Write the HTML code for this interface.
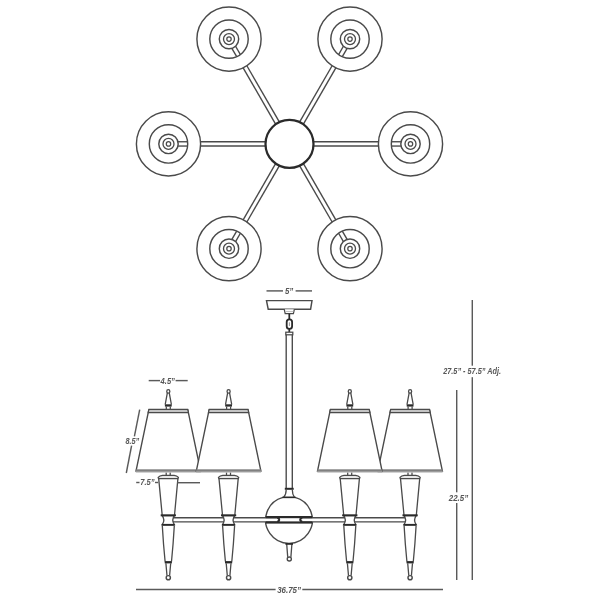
<!DOCTYPE html>
<html><head><meta charset="utf-8"><style>
html,body{margin:0;padding:0;background:#fff;width:600px;height:600px;overflow:hidden}
svg{display:block;will-change:transform}
</style></head><body>
<svg width="600" height="600" viewBox="0 0 600 600">
<rect width="600" height="600" fill="#fff"/>
<line x1="275.59" y1="124.1" x2="243.15" y2="67.92" stroke="#4a4a4a" stroke-width="1.38"/>
<line x1="279.31" y1="121.95" x2="246.88" y2="65.77" stroke="#4a4a4a" stroke-width="1.38"/>
<line x1="231.87" y1="48.38" x2="236.68" y2="56.71" stroke="#4a4a4a" stroke-width="1.38"/>
<line x1="235.59" y1="46.23" x2="240.4" y2="54.56" stroke="#4a4a4a" stroke-width="1.38"/>
<circle cx="229" cy="39.11" r="32.1" fill="none" stroke="#4a4a4a" stroke-width="1.44"/>
<circle cx="229" cy="39.11" r="19.2" fill="none" stroke="#4a4a4a" stroke-width="1.44"/>
<circle cx="229" cy="39.11" r="9.7" fill="none" stroke="#4a4a4a" stroke-width="1.44"/>
<circle cx="229" cy="39.11" r="5.5" fill="none" stroke="#4a4a4a" stroke-width="1.31"/>
<circle cx="229" cy="39.11" r="2.2" fill="none" stroke="#4a4a4a" stroke-width="1.25"/>
<line x1="299.69" y1="121.95" x2="332.12" y2="65.77" stroke="#4a4a4a" stroke-width="1.38"/>
<line x1="303.41" y1="124.1" x2="335.85" y2="67.92" stroke="#4a4a4a" stroke-width="1.38"/>
<line x1="343.41" y1="46.23" x2="338.6" y2="54.56" stroke="#4a4a4a" stroke-width="1.38"/>
<line x1="347.13" y1="48.38" x2="342.32" y2="56.71" stroke="#4a4a4a" stroke-width="1.38"/>
<circle cx="350" cy="39.11" r="32.1" fill="none" stroke="#4a4a4a" stroke-width="1.44"/>
<circle cx="350" cy="39.11" r="19.2" fill="none" stroke="#4a4a4a" stroke-width="1.44"/>
<circle cx="350" cy="39.11" r="9.7" fill="none" stroke="#4a4a4a" stroke-width="1.44"/>
<circle cx="350" cy="39.11" r="5.5" fill="none" stroke="#4a4a4a" stroke-width="1.31"/>
<circle cx="350" cy="39.11" r="2.2" fill="none" stroke="#4a4a4a" stroke-width="1.25"/>
<line x1="265.4" y1="146.05" x2="200.53" y2="146.05" stroke="#4a4a4a" stroke-width="1.38"/>
<line x1="265.4" y1="141.75" x2="200.53" y2="141.75" stroke="#4a4a4a" stroke-width="1.38"/>
<line x1="177.96" y1="146.05" x2="187.58" y2="146.05" stroke="#4a4a4a" stroke-width="1.38"/>
<line x1="177.96" y1="141.75" x2="187.58" y2="141.75" stroke="#4a4a4a" stroke-width="1.38"/>
<circle cx="168.5" cy="143.9" r="32.1" fill="none" stroke="#4a4a4a" stroke-width="1.44"/>
<circle cx="168.5" cy="143.9" r="19.2" fill="none" stroke="#4a4a4a" stroke-width="1.44"/>
<circle cx="168.5" cy="143.9" r="9.7" fill="none" stroke="#4a4a4a" stroke-width="1.44"/>
<circle cx="168.5" cy="143.9" r="5.5" fill="none" stroke="#4a4a4a" stroke-width="1.31"/>
<circle cx="168.5" cy="143.9" r="2.2" fill="none" stroke="#4a4a4a" stroke-width="1.25"/>
<line x1="313.6" y1="141.75" x2="378.47" y2="141.75" stroke="#4a4a4a" stroke-width="1.38"/>
<line x1="313.6" y1="146.05" x2="378.47" y2="146.05" stroke="#4a4a4a" stroke-width="1.38"/>
<line x1="401.04" y1="141.75" x2="391.42" y2="141.75" stroke="#4a4a4a" stroke-width="1.38"/>
<line x1="401.04" y1="146.05" x2="391.42" y2="146.05" stroke="#4a4a4a" stroke-width="1.38"/>
<circle cx="410.5" cy="143.9" r="32.1" fill="none" stroke="#4a4a4a" stroke-width="1.44"/>
<circle cx="410.5" cy="143.9" r="19.2" fill="none" stroke="#4a4a4a" stroke-width="1.44"/>
<circle cx="410.5" cy="143.9" r="9.7" fill="none" stroke="#4a4a4a" stroke-width="1.44"/>
<circle cx="410.5" cy="143.9" r="5.5" fill="none" stroke="#4a4a4a" stroke-width="1.31"/>
<circle cx="410.5" cy="143.9" r="2.2" fill="none" stroke="#4a4a4a" stroke-width="1.25"/>
<line x1="279.31" y1="165.85" x2="246.88" y2="222.03" stroke="#4a4a4a" stroke-width="1.38"/>
<line x1="275.59" y1="163.7" x2="243.15" y2="219.88" stroke="#4a4a4a" stroke-width="1.38"/>
<line x1="235.59" y1="241.57" x2="240.4" y2="233.24" stroke="#4a4a4a" stroke-width="1.38"/>
<line x1="231.87" y1="239.42" x2="236.68" y2="231.09" stroke="#4a4a4a" stroke-width="1.38"/>
<circle cx="229" cy="248.69" r="32.1" fill="none" stroke="#4a4a4a" stroke-width="1.44"/>
<circle cx="229" cy="248.69" r="19.2" fill="none" stroke="#4a4a4a" stroke-width="1.44"/>
<circle cx="229" cy="248.69" r="9.7" fill="none" stroke="#4a4a4a" stroke-width="1.44"/>
<circle cx="229" cy="248.69" r="5.5" fill="none" stroke="#4a4a4a" stroke-width="1.31"/>
<circle cx="229" cy="248.69" r="2.2" fill="none" stroke="#4a4a4a" stroke-width="1.25"/>
<line x1="303.41" y1="163.7" x2="335.85" y2="219.88" stroke="#4a4a4a" stroke-width="1.38"/>
<line x1="299.69" y1="165.85" x2="332.12" y2="222.03" stroke="#4a4a4a" stroke-width="1.38"/>
<line x1="347.13" y1="239.42" x2="342.32" y2="231.09" stroke="#4a4a4a" stroke-width="1.38"/>
<line x1="343.41" y1="241.57" x2="338.6" y2="233.24" stroke="#4a4a4a" stroke-width="1.38"/>
<circle cx="350" cy="248.69" r="32.1" fill="none" stroke="#4a4a4a" stroke-width="1.44"/>
<circle cx="350" cy="248.69" r="19.2" fill="none" stroke="#4a4a4a" stroke-width="1.44"/>
<circle cx="350" cy="248.69" r="9.7" fill="none" stroke="#4a4a4a" stroke-width="1.44"/>
<circle cx="350" cy="248.69" r="5.5" fill="none" stroke="#4a4a4a" stroke-width="1.31"/>
<circle cx="350" cy="248.69" r="2.2" fill="none" stroke="#4a4a4a" stroke-width="1.25"/>
<circle cx="289.5" cy="143.9" r="24" fill="#fff" stroke="#2a2a2a" stroke-width="2.25"/>
<polygon points="266.5,300.6 312,300.6 310.6,309.2 268.2,309.2" fill="#fff" stroke="#4a4a4a" stroke-width="1.44"/>
<path d="M284.2,309.2 L285.2,313.7 H293.4 L294.4,309.2" fill="#fff" stroke="#4a4a4a" stroke-width="1.25"/>
<line x1="285.3" y1="311.6" x2="293.3" y2="311.6" stroke="#bbb" stroke-width="1.00"/>
<line x1="289.3" y1="313.7" x2="289.3" y2="319" stroke="#2a2a2a" stroke-width="1.75"/>
<rect x="286.7" y="319.3" width="5.4" height="9.6" rx="2.6" fill="#fff" stroke="#2a2a2a" stroke-width="1.81"/>
<line x1="289.4" y1="322.3" x2="289.4" y2="326" stroke="#999" stroke-width="1.00"/>
<line x1="289.3" y1="328.9" x2="289.3" y2="332.2" stroke="#2a2a2a" stroke-width="1.75"/>
<rect x="285.8" y="332.2" width="7" height="2.6" fill="#fff" stroke="#4a4a4a" stroke-width="1.25"/>
<line x1="286.2" y1="334.8" x2="286.2" y2="488" stroke="#4a4a4a" stroke-width="1.38"/>
<line x1="292.3" y1="334.8" x2="292.3" y2="488" stroke="#4a4a4a" stroke-width="1.38"/>
<rect x="284.8" y="487.8" width="8.9" height="2" fill="#2a2a2a"/>
<path d="M282.93,497.4 A23.4,23.4 0 1 0 295.07,497.4 Z" fill="#fff" stroke="#4a4a4a" stroke-width="1.44"/>
<path d="M286.2,489.8 Q286.2,494.5 283.53,497.4 M292.3,489.8 Q292.3,494.5 294.47,497.4" fill="none" stroke="#4a4a4a" stroke-width="1.31"/>
<line x1="282.43" y1="497.4" x2="295.57" y2="497.4" stroke="#2a2a2a" stroke-width="1.50"/>
<path d="M168,517.7 H277.4 A2.1,2.1 0 0 1 277.4,521.9 H168" fill="#fff" stroke="#4a4a4a" stroke-width="1.38"/>
<path d="M410,517.7 H302.1 A2.1,2.1 0 0 0 302.1,521.9 H410" fill="#fff" stroke="#4a4a4a" stroke-width="1.38"/>
<rect x="265.78" y="516.0" width="46.44" height="2.2" fill="#2a2a2a"/>
<rect x="265.73" y="521.4" width="46.53" height="2.2" fill="#2a2a2a"/>
<path d="M277.2,518.2 A1.9,1.6 0 0 1 277.2,521.4 M302.3,518.2 A1.9,1.6 0 0 0 302.3,521.4" fill="none" stroke="#2a2a2a" stroke-width="1.62"/>
<path d="M286.7,544 L287.7,556.9 M291.9,544 L290.9,556.9" fill="none" stroke="#4a4a4a" stroke-width="1.31"/>
<rect x="285.4" y="543" width="7.6" height="1.8" fill="#2a2a2a"/>
<circle cx="289.3" cy="559" r="2.05" fill="#fff" stroke="#4a4a4a" stroke-width="1.38"/>
<path d="M167.4,392.6 L165.2,404.5 M169.2,392.6 L171.4,404.5" stroke="#4a4a4a" stroke-width="1.31"/>
<ellipse cx="168.3" cy="391.4" rx="1.55" ry="1.8" fill="#fff" stroke="#4a4a4a" stroke-width="1.31"/>
<rect x="164.9" y="404.3" width="6.8" height="2.3" fill="#2a2a2a"/>
<line x1="166.3" y1="406.5" x2="166.3" y2="409.4" stroke="#4a4a4a" stroke-width="1.25"/>
<line x1="170.3" y1="406.5" x2="170.3" y2="409.4" stroke="#4a4a4a" stroke-width="1.25"/>
<path d="M166.2,472.5 V475.4 M170.2,472.5 V475.4" stroke="#4a4a4a" stroke-width="1.25"/>
<path d="M158.6,478.7 L158.2,477.4 Q159.7,475.6 162.5,475.4 H174.1 Q176.9,475.6 178.4,477.4 L178,478.7 Z" fill="#e8e8e8" stroke="#4a4a4a" stroke-width="1.31"/>
<path d="M158.7,478.6 L162.2,515.3 M177.9,478.6 L174.5,515.3" stroke="#4a4a4a" stroke-width="1.31"/>
<path d="M162.1,515.5 Q165.5,520 162.3,524.7 H174.3 Q171.1,520 174.5,515.5 Z" fill="#fff" stroke="#4a4a4a" stroke-width="1.31"/>
<rect x="160.7" y="514.4" width="15.2" height="1.9" fill="#2a2a2a"/>
<rect x="161.7" y="523.9" width="13.0" height="1.9" fill="#2a2a2a"/>
<path d="M162.3,525.6 Q163.4,545 165.1,561.5 M174.3,525.6 Q173.2,545 171.5,561.5" fill="none" stroke="#4a4a4a" stroke-width="1.31"/>
<rect x="164.7" y="561.1" width="7.2" height="2.3" fill="#2a2a2a"/>
<path d="M165.9,563.3 L167,575.7 M170.7,563.3 L169.6,575.7" stroke="#4a4a4a" stroke-width="1.31"/>
<circle cx="168.3" cy="577.7" r="2.1" fill="#fff" stroke="#4a4a4a" stroke-width="1.44"/>
<path d="M227.7,392.6 L225.5,404.5 M229.5,392.6 L231.7,404.5" stroke="#4a4a4a" stroke-width="1.31"/>
<ellipse cx="228.6" cy="391.4" rx="1.55" ry="1.8" fill="#fff" stroke="#4a4a4a" stroke-width="1.31"/>
<rect x="225.2" y="404.3" width="6.8" height="2.3" fill="#2a2a2a"/>
<line x1="226.6" y1="406.5" x2="226.6" y2="409.4" stroke="#4a4a4a" stroke-width="1.25"/>
<line x1="230.6" y1="406.5" x2="230.6" y2="409.4" stroke="#4a4a4a" stroke-width="1.25"/>
<path d="M226.5,472.5 V475.4 M230.5,472.5 V475.4" stroke="#4a4a4a" stroke-width="1.25"/>
<path d="M218.9,478.7 L218.5,477.4 Q220,475.6 222.8,475.4 H234.4 Q237.2,475.6 238.7,477.4 L238.3,478.7 Z" fill="#e8e8e8" stroke="#4a4a4a" stroke-width="1.31"/>
<path d="M219,478.6 L222.5,515.3 M238.2,478.6 L234.8,515.3" stroke="#4a4a4a" stroke-width="1.31"/>
<path d="M222.4,515.5 Q225.8,520 222.6,524.7 H234.6 Q231.4,520 234.8,515.5 Z" fill="#fff" stroke="#4a4a4a" stroke-width="1.31"/>
<rect x="221" y="514.4" width="15.2" height="1.9" fill="#2a2a2a"/>
<rect x="222" y="523.9" width="13.0" height="1.9" fill="#2a2a2a"/>
<path d="M222.6,525.6 Q223.7,545 225.4,561.5 M234.6,525.6 Q233.5,545 231.8,561.5" fill="none" stroke="#4a4a4a" stroke-width="1.31"/>
<rect x="225" y="561.1" width="7.2" height="2.3" fill="#2a2a2a"/>
<path d="M226.2,563.3 L227.3,575.7 M231,563.3 L229.9,575.7" stroke="#4a4a4a" stroke-width="1.31"/>
<circle cx="228.6" cy="577.7" r="2.1" fill="#fff" stroke="#4a4a4a" stroke-width="1.44"/>
<path d="M348.9,392.6 L346.7,404.5 M350.7,392.6 L352.9,404.5" stroke="#4a4a4a" stroke-width="1.31"/>
<ellipse cx="349.8" cy="391.4" rx="1.55" ry="1.8" fill="#fff" stroke="#4a4a4a" stroke-width="1.31"/>
<rect x="346.4" y="404.3" width="6.8" height="2.3" fill="#2a2a2a"/>
<line x1="347.8" y1="406.5" x2="347.8" y2="409.4" stroke="#4a4a4a" stroke-width="1.25"/>
<line x1="351.8" y1="406.5" x2="351.8" y2="409.4" stroke="#4a4a4a" stroke-width="1.25"/>
<path d="M347.7,472.5 V475.4 M351.7,472.5 V475.4" stroke="#4a4a4a" stroke-width="1.25"/>
<path d="M340.1,478.7 L339.7,477.4 Q341.2,475.6 344,475.4 H355.6 Q358.4,475.6 359.9,477.4 L359.5,478.7 Z" fill="#e8e8e8" stroke="#4a4a4a" stroke-width="1.31"/>
<path d="M340.2,478.6 L343.7,515.3 M359.4,478.6 L356,515.3" stroke="#4a4a4a" stroke-width="1.31"/>
<path d="M343.6,515.5 Q347,520 343.8,524.7 H355.8 Q352.6,520 356,515.5 Z" fill="#fff" stroke="#4a4a4a" stroke-width="1.31"/>
<rect x="342.2" y="514.4" width="15.2" height="1.9" fill="#2a2a2a"/>
<rect x="343.2" y="523.9" width="13.0" height="1.9" fill="#2a2a2a"/>
<path d="M343.8,525.6 Q344.9,545 346.6,561.5 M355.8,525.6 Q354.7,545 353,561.5" fill="none" stroke="#4a4a4a" stroke-width="1.31"/>
<rect x="346.2" y="561.1" width="7.2" height="2.3" fill="#2a2a2a"/>
<path d="M347.4,563.3 L348.5,575.7 M352.2,563.3 L351.1,575.7" stroke="#4a4a4a" stroke-width="1.31"/>
<circle cx="349.8" cy="577.7" r="2.1" fill="#fff" stroke="#4a4a4a" stroke-width="1.44"/>
<path d="M409.2,392.6 L407,404.5 M411,392.6 L413.2,404.5" stroke="#4a4a4a" stroke-width="1.31"/>
<ellipse cx="410.1" cy="391.4" rx="1.55" ry="1.8" fill="#fff" stroke="#4a4a4a" stroke-width="1.31"/>
<rect x="406.7" y="404.3" width="6.8" height="2.3" fill="#2a2a2a"/>
<line x1="408.1" y1="406.5" x2="408.1" y2="409.4" stroke="#4a4a4a" stroke-width="1.25"/>
<line x1="412.1" y1="406.5" x2="412.1" y2="409.4" stroke="#4a4a4a" stroke-width="1.25"/>
<path d="M408,472.5 V475.4 M412,472.5 V475.4" stroke="#4a4a4a" stroke-width="1.25"/>
<path d="M400.4,478.7 L400,477.4 Q401.5,475.6 404.3,475.4 H415.9 Q418.7,475.6 420.2,477.4 L419.8,478.7 Z" fill="#e8e8e8" stroke="#4a4a4a" stroke-width="1.31"/>
<path d="M400.5,478.6 L404,515.3 M419.7,478.6 L416.3,515.3" stroke="#4a4a4a" stroke-width="1.31"/>
<path d="M403.9,515.5 Q407.3,520 404.1,524.7 H416.1 Q412.9,520 416.3,515.5 Z" fill="#fff" stroke="#4a4a4a" stroke-width="1.31"/>
<rect x="402.5" y="514.4" width="15.2" height="1.9" fill="#2a2a2a"/>
<rect x="403.5" y="523.9" width="13.0" height="1.9" fill="#2a2a2a"/>
<path d="M404.1,525.6 Q405.2,545 406.9,561.5 M416.1,525.6 Q415,545 413.3,561.5" fill="none" stroke="#4a4a4a" stroke-width="1.31"/>
<rect x="406.5" y="561.1" width="7.2" height="2.3" fill="#2a2a2a"/>
<path d="M407.7,563.3 L408.8,575.7 M412.5,563.3 L411.4,575.7" stroke="#4a4a4a" stroke-width="1.31"/>
<circle cx="410.1" cy="577.7" r="2.1" fill="#fff" stroke="#4a4a4a" stroke-width="1.44"/>
<path d="M148.9,409.4 L136,471 H200.6 L187.7,409.4" fill="#fff" stroke="#4a4a4a" stroke-width="1.38"/>
<path d="M148.9,409.4 H187.7 L188.4,412.6 H148.2 Z" fill="#c4c4c4" stroke="#4a4a4a" stroke-width="1.19"/>
<rect x="135.8" y="469.3" width="65" height="1.9" fill="#808080"/>
<rect x="135.8" y="471.2" width="65" height="1.3" fill="#a6a6a6"/>
<path d="M390.7,409.4 L377.8,471 H442.4 L429.5,409.4" fill="#fff" stroke="#4a4a4a" stroke-width="1.38"/>
<path d="M390.7,409.4 H429.5 L430.2,412.6 H390 Z" fill="#c4c4c4" stroke="#4a4a4a" stroke-width="1.19"/>
<rect x="377.6" y="469.3" width="65" height="1.9" fill="#808080"/>
<rect x="377.6" y="471.2" width="65" height="1.3" fill="#a6a6a6"/>
<path d="M209.2,409.4 L196.3,471 H260.9 L248,409.4" fill="#fff" stroke="#4a4a4a" stroke-width="1.38"/>
<path d="M209.2,409.4 H248 L248.7,412.6 H208.5 Z" fill="#c4c4c4" stroke="#4a4a4a" stroke-width="1.19"/>
<rect x="196.1" y="469.3" width="65" height="1.9" fill="#808080"/>
<rect x="196.1" y="471.2" width="65" height="1.3" fill="#a6a6a6"/>
<path d="M330.4,409.4 L317.5,471 H382.1 L369.2,409.4" fill="#fff" stroke="#4a4a4a" stroke-width="1.38"/>
<path d="M330.4,409.4 H369.2 L369.9,412.6 H329.7 Z" fill="#c4c4c4" stroke="#4a4a4a" stroke-width="1.19"/>
<rect x="317.3" y="469.3" width="65" height="1.9" fill="#808080"/>
<rect x="317.3" y="471.2" width="65" height="1.3" fill="#a6a6a6"/>
<line x1="266.5" y1="290.9" x2="283" y2="290.9" stroke="#5a5a5a" stroke-width="1.44"/>
<line x1="295.6" y1="290.9" x2="312" y2="290.9" stroke="#5a5a5a" stroke-width="1.44"/>
<text x="284.9" y="293.6" font-family="Liberation Sans, sans-serif" font-style="italic" font-weight="bold" font-size="9" fill="#575757" textLength="8.3" lengthAdjust="spacingAndGlyphs">5&#8221;</text>
<line x1="148.7" y1="380.6" x2="160" y2="380.6" stroke="#5a5a5a" stroke-width="1.44"/>
<line x1="175.6" y1="380.6" x2="187.7" y2="380.6" stroke="#5a5a5a" stroke-width="1.44"/>
<text x="160.6" y="383.6" font-family="Liberation Sans, sans-serif" font-style="italic" font-weight="bold" font-size="9" fill="#575757" textLength="14.3" lengthAdjust="spacingAndGlyphs">4.5&#8221;</text>
<line x1="139.7" y1="409.6" x2="134.4" y2="436.4" stroke="#5a5a5a" stroke-width="1.44"/>
<line x1="131.6" y1="445.6" x2="126.3" y2="473" stroke="#5a5a5a" stroke-width="1.44"/>
<text x="125.4" y="443.8" font-family="Liberation Sans, sans-serif" font-style="italic" font-weight="bold" font-size="8.5" fill="#575757" textLength="13.9" lengthAdjust="spacingAndGlyphs">8.5&#8221;</text>
<line x1="136.2" y1="482.5" x2="139.5" y2="482.5" stroke="#5a5a5a" stroke-width="1.44"/>
<line x1="155" y1="482.5" x2="158.2" y2="482.5" stroke="#5a5a5a" stroke-width="1.44"/>
<text x="140.2" y="484.8" font-family="Liberation Sans, sans-serif" font-style="italic" font-weight="bold" font-size="8.5" fill="#575757" textLength="14.3" lengthAdjust="spacingAndGlyphs">7.5&#8221;</text>
<line x1="177.3" y1="482.7" x2="200" y2="482.7" stroke="#5a5a5a" stroke-width="1.44"/>
<line x1="472.3" y1="300" x2="472.3" y2="365.7" stroke="#5a5a5a" stroke-width="1.44"/>
<line x1="472.3" y1="377.2" x2="472.3" y2="580" stroke="#5a5a5a" stroke-width="1.44"/>
<text x="443.2" y="374.4" font-family="Liberation Sans, sans-serif" font-style="italic" font-weight="bold" font-size="8.5" fill="#575757" textLength="57.8" lengthAdjust="spacingAndGlyphs">27.5&#8221; - 57.5&#8221; Adj.</text>
<line x1="456.7" y1="390" x2="456.7" y2="492.3" stroke="#5a5a5a" stroke-width="1.44"/>
<line x1="456.7" y1="503" x2="456.7" y2="580" stroke="#5a5a5a" stroke-width="1.44"/>
<text x="448.8" y="501" font-family="Liberation Sans, sans-serif" font-style="italic" font-weight="bold" font-size="9.5" fill="#575757" textLength="19.4" lengthAdjust="spacingAndGlyphs">22.5&#8221;</text>
<line x1="136" y1="589.5" x2="275.6" y2="589.5" stroke="#5a5a5a" stroke-width="1.44"/>
<line x1="302.3" y1="589.5" x2="443" y2="589.5" stroke="#5a5a5a" stroke-width="1.44"/>
<text x="277.2" y="593.1" font-family="Liberation Sans, sans-serif" font-style="italic" font-weight="bold" font-size="9" fill="#575757" textLength="23.8" lengthAdjust="spacingAndGlyphs">36.75&#8221;</text>
</svg>
</body></html>
